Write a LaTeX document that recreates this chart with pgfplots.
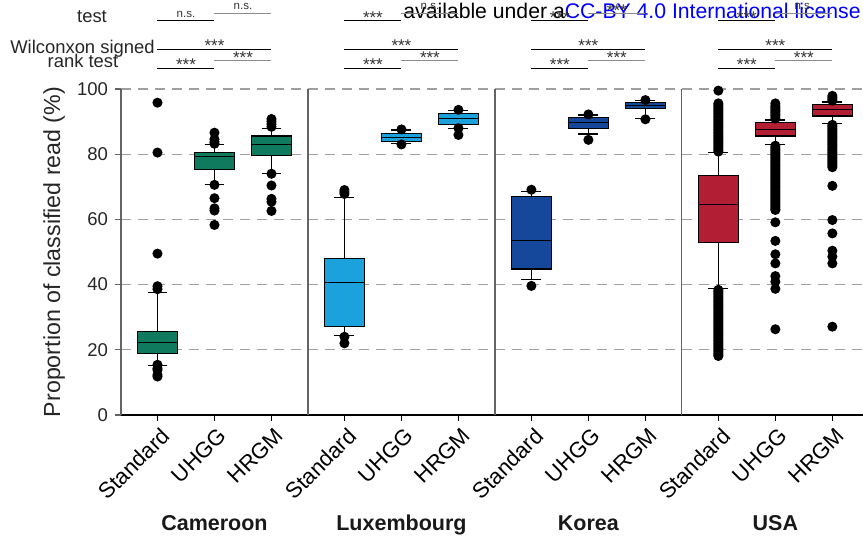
\documentclass[border=0pt]{standalone}
\usepackage{fontspec}
\setmainfont{Liberation Sans}
\usepackage{pgfplots}
\pgfplotsset{compat=1.18}
\usepgfplotslibrary{statistics}
\definecolor{cam}{RGB}{16,122,94}
\definecolor{lux}{RGB}{27,161,219}
\definecolor{kor}{RGB}{21,71,155}
\definecolor{usa}{RGB}{178,30,51}
\definecolor{annogray}{RGB}{140,140,140}
\definecolor{axgray}{RGB}{100,100,100}
\definecolor{licblue}{RGB}{0,0,255}

\newcommand{\nsfont}{\fontsize{5.75}{6}\selectfont}
\newcommand{\astfont}{\fontsize{8.5}{9}\selectfont}
\begin{document}
\begin{tikzpicture}
\begin{axis}[
  x=28.5pt, y=1.63pt,
  xmin=-0.64, xmax=12.48, ymin=0, ymax=100,
  axis x line=bottom, axis y line=left,
  axis line style={-},
  x axis line style={black,line width=0.6pt},
  y axis line style={axgray,line width=0.6pt},
  ytick={0,20,40,60,80,100},
  xtick={0,1,2,3.28,4.28,5.28,6.56,7.56,8.56,9.84,10.84,11.84},
  xticklabels={Standard,UHGG,HRGM,Standard,UHGG,HRGM,Standard,UHGG,HRGM,Standard,UHGG,HRGM},
  xticklabel style={rotate=45, anchor=north east, inner sep=1pt, yshift=-1.5pt, font=\fontsize{11}{12}\selectfont},
  yticklabel style={font=\fontsize{9.25}{10}\selectfont, text=black!85},
  xtick style={black,line width=0.6pt},
  ytick style={axgray,line width=0.6pt},
  tick align=outside, major tick length=3pt,
  ymajorgrids,
  grid style={dash pattern=on 5pt off 3.5pt, gray!75, line width=0.6pt},
  /pgf/number format/assume math mode=true,
  clip=false,
  boxplot/draw direction=y,
  boxplot/box extend=0.7,
  boxplot/whisker extend=0.35,
  every axis plot/.append style={line width=0.6pt},
]
\coordinate (O) at (-0.64,0);

% ---------- Cameroon ----------
\addplot[boxplot prepared={lower whisker=15.3, lower quartile=18.9, median=22.3, upper quartile=25.5, upper whisker=37.6, draw position=0},
  draw=black, fill=cam, mark=*, mark size=2.2pt, mark options={draw=black,fill=black}]
  table[row sep=\\, y index=0] {data\\ 95.8\\ 80.5\\ 49.5\\ 39.5\\ 38.6\\ 15.4\\ 14.3\\ 13.8\\ 12.3\\ 11.8\\};
\addplot[boxplot prepared={lower whisker=70.6, lower quartile=75.4, median=79.2, upper quartile=80.5, upper whisker=83.0, draw position=1},
  draw=black, fill=cam, mark=*, mark size=2.2pt, mark options={draw=black,fill=black}]
  table[row sep=\\, y index=0] {data\\ 86.6\\ 84.6\\ 83.8\\ 83.2\\ 70.6\\ 66.5\\ 63.4\\ 62.7\\ 58.3\\};
\addplot[boxplot prepared={lower whisker=74.0, lower quartile=79.6, median=83.0, upper quartile=85.6, upper whisker=87.9, draw position=2},
  draw=black, fill=cam, mark=*, mark size=2.2pt, mark options={draw=black,fill=black}]
  table[row sep=\\, y index=0] {data\\ 90.8\\ 90.0\\ 89.2\\ 88.4\\ 74.0\\ 70.4\\ 66.3\\ 65.4\\ 62.6\\};

% ---------- Luxembourg ----------
\addplot[boxplot prepared={lower whisker=24.3, lower quartile=27.1, median=40.6, upper quartile=48.1, upper whisker=66.8, draw position=3.28},
  draw=black, fill=lux, mark=*, mark size=2.2pt, mark options={draw=black,fill=black}]
  table[row sep=\\, y index=0] {data\\ 69.0\\ 68.4\\ 67.8\\ 24.0\\ 22.0\\};
\addplot[boxplot prepared={lower whisker=83.3, lower quartile=84.0, median=85.2, upper quartile=86.4, upper whisker=87.4, draw position=4.28},
  draw=black, fill=lux, mark=*, mark size=2.2pt, mark options={draw=black,fill=black}]
  table[row sep=\\, y index=0] {data\\ 87.6\\ 83.0\\};
\addplot[boxplot prepared={lower whisker=87.9, lower quartile=89.2, median=90.9, upper quartile=92.4, upper whisker=93.3, draw position=5.28},
  draw=black, fill=lux, mark=*, mark size=2.2pt, mark options={draw=black,fill=black}]
  table[row sep=\\, y index=0] {data\\ 93.6\\ 88.0\\ 85.9\\};

% ---------- Korea ----------
\addplot[boxplot prepared={lower whisker=41.6, lower quartile=44.8, median=53.6, upper quartile=67.1, upper whisker=68.5, draw position=6.56},
  draw=black, fill=kor, mark=*, mark size=2.2pt, mark options={draw=black,fill=black}]
  table[row sep=\\, y index=0] {data\\ 69.1\\ 39.6\\};
\addplot[boxplot prepared={lower whisker=86.2, lower quartile=87.9, median=89.6, upper quartile=91.3, upper whisker=92.0, draw position=7.56},
  draw=black, fill=kor, mark=*, mark size=2.2pt, mark options={draw=black,fill=black}]
  table[row sep=\\, y index=0] {data\\ 92.2\\ 84.4\\};
\addplot[boxplot prepared={lower whisker=91.0, lower quartile=94.1, median=95.0, upper quartile=95.9, upper whisker=96.4, draw position=8.56},
  draw=black, fill=kor, mark=*, mark size=2.2pt, mark options={draw=black,fill=black}]
  table[row sep=\\, y index=0] {data\\ 96.6\\ 90.7\\};

% ---------- USA ----------
\addplot[boxplot prepared={lower whisker=38.7, lower quartile=52.9, median=64.6, upper quartile=73.5, upper whisker=80.5, draw position=9.84},
  draw=black, fill=usa, mark=*, mark size=2.2pt, mark options={draw=black,fill=black}]
  table[row sep=\\, y index=0] {data\\ 99.5\\ 95.6\\ 95.2\\ 94.7\\ 94.2\\ 93.7\\ 93.2\\ 92.7\\ 92.2\\ 91.7\\ 91.2\\ 90.7\\ 90.2\\ 89.7\\ 89.2\\ 88.7\\ 88.2\\ 87.7\\ 87.2\\ 86.7\\ 86.2\\ 85.7\\ 85.2\\ 84.7\\ 84.2\\ 83.7\\ 83.2\\ 82.7\\ 82.2\\ 81.7\\ 81.2\\ 80.8\\
  38.4\\ 37.9\\ 37.4\\ 36.9\\ 36.4\\ 35.9\\ 35.4\\ 34.9\\ 34.4\\ 33.9\\ 33.4\\ 32.9\\ 32.4\\ 31.9\\ 31.4\\ 30.9\\ 30.4\\ 29.9\\ 29.4\\ 28.9\\ 28.4\\ 27.9\\ 27.4\\ 26.9\\ 26.4\\ 25.9\\ 25.4\\ 24.9\\ 24.4\\ 23.9\\ 23.4\\ 22.9\\ 22.4\\ 21.9\\ 21.4\\ 20.9\\ 20.4\\ 19.9\\ 19.4\\ 18.9\\ 18.4\\ 18.1\\};
\addplot[boxplot prepared={lower whisker=83.0, lower quartile=85.6, median=87.6, upper quartile=89.6, upper whisker=90.5, draw position=10.84},
  draw=black, fill=usa, mark=*, mark size=2.2pt, mark options={draw=black,fill=black}]
  table[row sep=\\, y index=0] {data\\ 95.6\\ 94.9\\ 94.4\\ 93.9\\ 93.4\\ 92.9\\ 92.4\\ 91.9\\ 91.4\\ 90.9\\
  82.6\\ 82.1\\ 81.6\\ 81.1\\ 80.6\\ 80.1\\ 79.6\\ 79.1\\ 78.6\\ 78.1\\ 77.6\\ 77.1\\ 76.6\\ 76.1\\ 75.6\\ 75.1\\ 74.6\\ 74.1\\ 73.6\\ 73.1\\ 72.6\\ 72.1\\ 71.6\\ 71.1\\ 70.6\\ 70.1\\ 69.6\\ 69.1\\ 68.6\\ 68.1\\ 67.6\\ 67.1\\ 66.6\\ 66.1\\ 65.6\\ 65.1\\ 64.6\\ 64.1\\ 63.6\\ 63.1\\ 62.9\\
  59.1\\ 53.4\\ 49.3\\ 46.5\\ 42.6\\ 40.9\\ 38.7\\ 26.3\\};
\addplot[boxplot prepared={lower whisker=89.4, lower quartile=91.7, median=93.7, upper quartile=95.3, upper whisker=96.0, draw position=11.84},
  draw=black, fill=usa, mark=*, mark size=2.2pt, mark options={draw=black,fill=black}]
  table[row sep=\\, y index=0] {data\\ 97.9\\ 97.4\\ 96.9\\ 96.4\\
  89.0\\ 88.5\\ 88.0\\ 87.5\\ 87.0\\ 86.5\\ 86.0\\ 85.5\\ 85.0\\ 84.5\\ 84.0\\ 83.5\\ 83.0\\ 82.5\\ 82.0\\ 81.5\\ 81.0\\ 80.5\\ 80.0\\ 79.5\\ 79.0\\ 78.5\\ 78.0\\ 77.5\\ 77.0\\ 76.5\\ 76.0\\
  70.3\\ 59.8\\ 55.7\\ 50.4\\ 48.6\\ 46.5\\ 27.1\\};

% ---------- panel dividers ----------
\draw[axgray,line width=0.6pt] (2.64,0) -- (2.64,100);
\draw[axgray,line width=0.6pt] (5.92,0) -- (5.92,100);
\draw[axgray,line width=0.6pt] (9.2,0) -- (9.2,100);

% ---------- axis label and group names ----------
\node[rotate=90, font=\fontsize{11.6}{12}\selectfont, text=black!85] at (-1.815,50) {Proportion of classified read (\%)};
\node[anchor=base, font=\bfseries\fontsize{10.75}{12}\selectfont, text=black!90] at (1,-35.3) {Cameroon};
\node[anchor=base, font=\bfseries\fontsize{10.75}{12}\selectfont, text=black!90] at (4.28,-35.3) {Luxembourg};
\node[anchor=base, font=\bfseries\fontsize{10.75}{12}\selectfont, text=black!90] at (7.56,-35.3) {Korea};
\node[anchor=base, font=\bfseries\fontsize{10.75}{12}\selectfont, text=black!90] at (10.84,-35.3) {USA};

% ---------- licence overlay ----------
\node[anchor=base west, inner sep=0pt, font=\fontsize{10.6}{12}\selectfont] at (4.307,121.6) {available under a\textcolor{licblue}{CC-BY 4.0 International license}};

% ---------- test labels ----------
\node[anchor=base, inner sep=0pt, font=\fontsize{9.2}{10}\selectfont, text=black!85] at (-1.149,120.4) {test};
\node[anchor=base east, inner sep=0pt, font=\fontsize{9.2}{10}\selectfont, text=black!85] at (-0.044,111.04) {Wilconxon signed};
\node[anchor=base, inner sep=0pt, font=\fontsize{9.2}{10}\selectfont, text=black!85] at (-1.307,106.44) {rank test};

% ---------- significance lines ----------
\pgfplotsinvokeforeach{0,3.28,6.56,9.84}{
  \draw[black,line width=0.6pt] (#1,120.95) -- ({#1+1},120.95);
  \draw[annogray,line width=0.6pt] ({#1+1},123.2) -- ({#1+2},123.2);
  \draw[black,line width=0.6pt] (#1,112.2) -- ({#1+2},112.2);
  \draw[annogray,line width=0.6pt] ({#1+1},108.7) -- ({#1+2},108.7);
  \draw[black,line width=0.6pt] (#1,106.35) -- ({#1+1},106.35);
  \node[anchor=base,inner sep=0pt,font=\astfont,text=black!80] at ({#1+1},111.37) {***};
  \node[anchor=base,inner sep=0pt,font=\astfont,text=black!80] at ({#1+1.5},107.87) {***};
  \node[anchor=base,inner sep=0pt,font=\astfont,text=black!80] at ({#1+0.5},105.52) {***};
}
% texts row 1
\node[anchor=base,inner sep=0pt,font=\nsfont,text=black!80] at (0.5,122.08) {n.s.};
\node[anchor=base,inner sep=0pt,font=\nsfont,text=black!80] at (1.5,124.33) {n.s.};
\node[anchor=base,inner sep=0pt,font=\astfont,text=black!80] at (3.78,120.12) {***};
\node[anchor=base,inner sep=0pt,font=\nsfont,text=black!80] at (4.78,124.33) {n.s.};
\node[anchor=base,inner sep=0pt,font=\astfont,text=black!80] at (7.06,120.12) {***};
\node[anchor=base,inner sep=0pt,font=\astfont,text=black!80] at (8.06,122.37) {***};
\node[anchor=base,inner sep=0pt,font=\astfont,text=black!80] at (10.34,120.12) {***};
\node[anchor=base,inner sep=0pt,font=\nsfont,text=black!80] at (11.34,124.33) {n.s.};
\end{axis}
\pgfresetboundingbox
\path[use as bounding box] ([shift={(-60.5pt,-62.5pt)}]O) rectangle ([shift={(371pt,207.5pt)}]O);
\end{tikzpicture}
\end{document}
